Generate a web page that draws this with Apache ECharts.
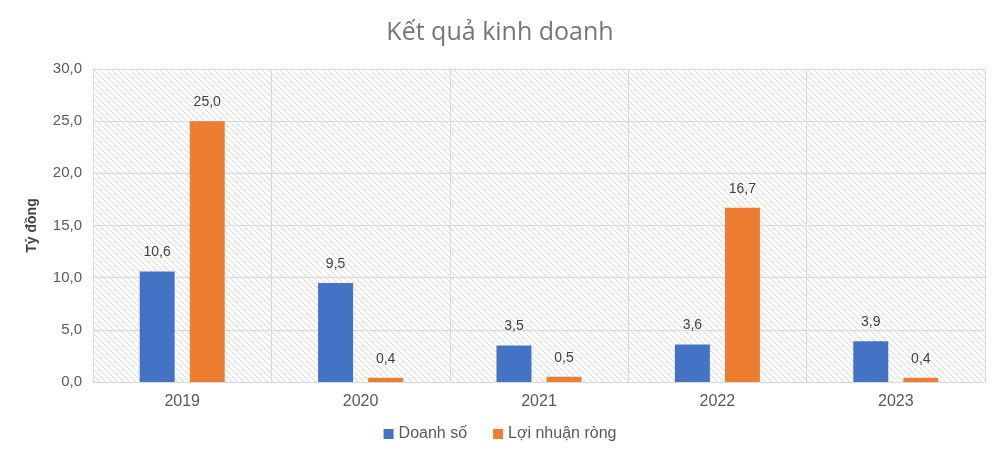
<!DOCTYPE html>
<html><head><meta charset="utf-8">
<script src="https://cdn.jsdelivr.net/npm/echarts@6/dist/echarts.min.js"></script>
<style>html,body{margin:0;padding:0;background:#fff}#c{width:1000px;height:460px}</style>
</head><body><div id="c"></div>
<script>
const categories = ['2019', '2020', '2021', '2022', '2023'];
const doanhSo = [10.6, 9.5, 3.5, 3.6, 3.9];
const loiNhuan = [25.0, 0.4, 0.5, 16.7, 0.4];
const seriesNames = ['Doanh số', 'Lợi nhuận ròng'];
const titleText = 'Kết quả kinh doanh';
const yName = 'Tỷ đồng';

function fmt(v){ return Number(v).toFixed(1).replace('.', ','); }

const pc = document.createElement('canvas');
pc.width = 6; pc.height = 6;
const ctx = pc.getContext('2d');
ctx.fillStyle = '#ffffff'; ctx.fillRect(0,0,6,6);
ctx.strokeStyle = '#dcdcdc'; ctx.lineWidth = 1;
ctx.beginPath();
ctx.moveTo(-1,-1); ctx.lineTo(7,7);
ctx.moveTo(-1,5); ctx.lineTo(1,7);
ctx.moveTo(5,-1); ctx.lineTo(7,1);
ctx.stroke();

const chart = echarts.init(document.getElementById('c'), null, {renderer:'canvas'});
const labelStyle = {show:true, position:'top', distance:12, formatter: p => fmt(p.value), color:'#404040', fontSize:14, fontFamily:'Liberation Sans'};
chart.setOption({
  animation:false,
  title:{text:titleText, left:'center', top:15, textStyle:{fontFamily:'Open Sans', fontSize:25, fontWeight:'normal', color:'#767676'}},
  grid:{left:93, right:15, top:69, bottom:78, show:true, borderWidth:0, backgroundColor:{image:pc, repeat:'repeat'}},
  legend:{bottom:13, left:'center', itemWidth:10, itemHeight:10, itemGap:26, icon:'rect',
    textStyle:{fontFamily:'Liberation Sans', fontSize:16, color:'#595959'}},
  xAxis:{type:'category', data:categories,
    axisLine:{lineStyle:{color:'#d9d9d9', width:1}}, axisTick:{show:false},
    axisLabel:{color:'#595959', fontSize:16, fontFamily:'Liberation Sans', margin:12},
    splitLine:{show:true, lineStyle:{color:'#d9d9d9', width:1}}},
  yAxis:{type:'value', min:0, max:30, interval:5,
    name:yName, nameLocation:'middle', nameGap:54, nameRotate:90,
    nameTextStyle:{fontFamily:'Liberation Sans', fontSize:14, fontWeight:'bold', color:'#404040'},
    axisLabel:{formatter: v => fmt(v), color:'#595959', fontSize:15, fontFamily:'Liberation Sans', margin:11},
    axisLine:{show:true, lineStyle:{color:'#d9d9d9'}}, axisTick:{show:false},
    splitLine:{lineStyle:{color:'#d9d9d9', width:1}}},
  series:[
    {name:seriesNames[0], type:'bar', data:doanhSo, barWidth:35, barGap:'43%', itemStyle:{color:'#4472C4'}, label:labelStyle},
    {name:seriesNames[1], type:'bar', data:loiNhuan, barWidth:35, barGap:'43%', itemStyle:{color:'#ED7D31'}, label:labelStyle}
  ]
});
</script></body></html>
